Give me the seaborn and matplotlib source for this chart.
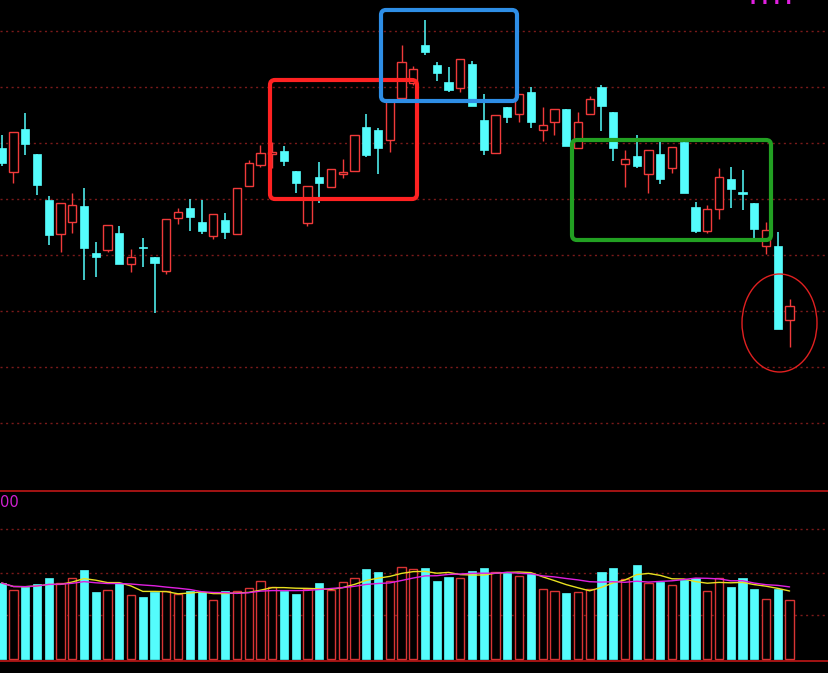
import matplotlib
matplotlib.use("Agg")
import matplotlib.pyplot as plt
import matplotlib.patches as mpatches
import matplotlib.transforms as mtransforms
import numpy as np
import pandas as pd
import seaborn as sns

# daily K-line data (price units)
opens = [16.30, 15.70, 16.78, 16.15, 15.00, 14.15, 14.45, 14.85, 13.68, 13.75,
         14.18, 13.40, 13.81, 13.58, 13.23, 14.55, 14.80, 14.45, 14.10, 14.50,
         14.15, 15.35, 15.88, 16.15, 16.23, 15.73, 14.43, 15.58, 15.33, 15.66,
         15.73, 16.83, 16.75, 16.50, 17.55, 17.93, 18.88, 18.38, 17.95, 17.80,
         18.40, 17.00, 16.18, 17.33, 17.15, 17.70, 16.75, 16.95, 17.28, 16.30,
         17.15, 17.83, 17.20, 15.90, 16.10, 15.65, 16.15, 15.80, 16.45, 14.83,
         14.23, 14.78, 15.53, 15.19, 14.93, 13.85, 13.85, 12.00]
highs = [16.63, 16.70, 17.18, 16.15, 15.10, 14.93, 15.18, 15.30, 13.95, 14.38,
         14.35, 13.78, 14.05, 13.58, 14.53, 14.80, 15.03, 15.00, 14.65, 14.68,
         15.30, 16.00, 16.38, 16.45, 16.35, 15.73, 15.35, 15.95, 15.78, 16.03,
         16.63, 17.15, 16.80, 17.50, 18.88, 18.35, 19.50, 18.45, 18.33, 18.53,
         18.48, 17.65, 17.13, 17.33, 17.65, 17.83, 17.33, 17.28, 17.28, 17.20,
         17.60, 17.88, 17.20, 16.25, 16.63, 16.25, 16.48, 16.33, 16.45, 14.95,
         14.88, 15.80, 15.83, 15.75, 14.93, 14.45, 14.20, 12.53]
lows = [15.85, 15.43, 16.13, 15.13, 13.88, 13.70, 14.18, 13.00, 13.08, 13.70,
        13.40, 13.20, 13.33, 12.18, 13.15, 14.40, 14.23, 14.15, 14.03, 14.03,
        14.15, 15.35, 15.83, 15.80, 15.85, 15.18, 14.35, 14.93, 15.33, 15.55,
        15.73, 16.08, 15.65, 16.20, 17.50, 17.88, 18.63, 17.98, 17.70, 17.70,
        17.35, 16.13, 16.18, 16.93, 16.95, 16.80, 16.48, 16.63, 16.35, 16.30,
        17.15, 16.73, 15.98, 15.33, 15.80, 15.18, 15.40, 15.68, 15.18, 14.18,
        14.18, 14.53, 14.80, 14.75, 14.05, 13.65, 11.78, 11.33]
closes = [15.93, 16.70, 16.40, 15.38, 14.13, 14.93, 14.88, 13.80, 13.58, 14.38,
          13.40, 13.58, 13.79, 13.43, 14.53, 14.70, 14.58, 14.23, 14.65, 14.20,
          15.30, 15.93, 16.18, 16.20, 15.98, 15.43, 15.35, 15.43, 15.78, 15.69,
          16.63, 16.13, 16.30, 17.50, 18.45, 18.28, 18.70, 18.18, 17.75, 18.53,
          17.35, 16.25, 17.13, 17.08, 17.65, 16.95, 16.88, 17.28, 16.35, 16.95,
          17.53, 17.35, 16.30, 16.03, 15.85, 16.25, 15.53, 16.33, 15.18, 14.23,
          14.78, 15.58, 15.28, 15.16, 14.28, 14.25, 11.78, 12.35]
volume = [76, 69, 72, 75, 81, 76, 81, 89, 67, 69,
          76, 64, 62, 67, 68, 65, 68, 67, 59, 68,
          68, 71, 78, 72, 68, 65, 70, 76, 69, 77,
          81, 90, 87, 78, 92, 90, 91, 78, 82, 81,
          88, 91, 87, 86, 83, 85, 70, 68, 66, 67,
          70, 87, 91, 80, 94, 76, 77, 74, 79, 81,
          68, 81, 72, 81, 70, 60, 70, 59]

df = pd.DataFrame({"open": opens, "high": highs, "low": lows,
                   "close": closes, "vol": volume})
df["day"] = np.arange(len(df))
df["up"] = df["close"] >= df["open"]
df["ma5"] = df["vol"].rolling(5, min_periods=1).mean()
df["ma10"] = df["vol"].rolling(10, min_periods=1).mean()

CYAN = "#54fcfc"
RED = "#f03a3a"
GRID = "#7a1a1a"

sns.set_theme(style="dark", rc={"figure.facecolor": "black",
                                "axes.facecolor": "black",
                                "savefig.facecolor": "black"})

W, H = 829, 673
fig = plt.figure(figsize=(W / 100, H / 100), dpi=100)
ax = fig.add_axes([0, 1 - 491 / H, 1, 491 / H])
axv = fig.add_axes([0, 12 / H, 1, 170 / H])

xlim = (-0.145, 70.35)
bw = 0.7

# price panel
up = df[df["up"]]
dn = df[~df["up"]]
ax.vlines(dn["day"], dn["low"], dn["high"], color=CYAN, lw=1.1, zorder=2)
ax.vlines(up["day"], up["low"], up["high"], color=RED, lw=1.0, zorder=2)
ax.bar(dn["day"], (dn["open"] - dn["close"]).clip(lower=0.03), bottom=dn["close"],
       width=bw, color=CYAN, edgecolor=CYAN, lw=0.5, zorder=3)
ax.bar(up["day"], (up["close"] - up["open"]).clip(lower=0.03), bottom=up["open"],
       width=bw, facecolor="black", edgecolor=RED, lw=1.0, zorder=3)

ax.set_xlim(*xlim)
ax.set_ylim(7.725, 20.0)
ax.set_yticks(19.225 - 1.4 * np.arange(8))
ax.set_xticks([])
ax.grid(axis="y", color=GRID, ls=(0, (1.5, 2.5)), lw=1.0)
ax.grid(axis="x", visible=False)
ax.tick_params(labelleft=False, left=False, bottom=False)
for s in ax.spines.values():
    s.set_visible(False)

# volume panel
axv.bar(dn["day"], dn["vol"], width=bw, color=CYAN, edgecolor=CYAN, lw=0.5, zorder=3)
axv.bar(up["day"], up["vol"], width=bw, facecolor="black", edgecolor="#d83434",
        lw=1.0, zorder=3)
sns.lineplot(data=df, x="day", y="ma5", color="#e8e020", lw=1.0, ax=axv, zorder=4)
sns.lineplot(data=df, x="day", y="ma10", color="#e020e0", lw=1.0, ax=axv, zorder=4)
axv.set_xlim(*xlim)
axv.set_ylim(-2, 168)
axv.set_yticks([44, 86, 130])
axv.set_xticks([])
axv.set_xlabel("")
axv.set_ylabel("")
axv.grid(axis="y", color=GRID, ls=(0, (1.5, 2.5)), lw=1.0)
axv.grid(axis="x", visible=False)
axv.tick_params(labelleft=False, left=False, bottom=False)
for k in ["left", "right"]:
    axv.spines[k].set_visible(False)
for k in ["top", "bottom"]:
    axv.spines[k].set_visible(True)
    axv.spines[k].set_color("#c01818")
    axv.spines[k].set_linewidth(1.2)
axv.text(0.0, 0.975, "00", transform=axv.transAxes, color="#d020d0",
         fontsize=10.5, va="top", ha="left")

# top-right label, cut off by the top edge as in the source
fig.text(750 / W, 1 - 4 / H, "I I I I", color="#e020e0", fontsize=12,
         fontweight="bold", va="baseline", ha="left")

# annotation shapes in pixel coordinates (image y measured from top)
px = mtransforms.IdentityTransform()


def box(x0, y0, x1, y1, color):
    p = mpatches.FancyBboxPatch((x0, H - y1), x1 - x0, y1 - y0,
                                boxstyle="round,pad=0,rounding_size=5",
                                fill=False, edgecolor=color, lw=3,
                                transform=px, zorder=10)
    fig.patches.append(p)


box(270, 80, 417, 199, "#ff2222")
box(381, 10, 517, 101, "#2e8ee6")
box(572, 140, 771, 240, "#22a022")
fig.patches.append(mpatches.Ellipse((779.5, H - 323), 75, 98, fill=False,
                                    edgecolor="#e02020", lw=1.0,
                                    transform=px, zorder=10))

fig.savefig("out.png", dpi=100, facecolor="black")
